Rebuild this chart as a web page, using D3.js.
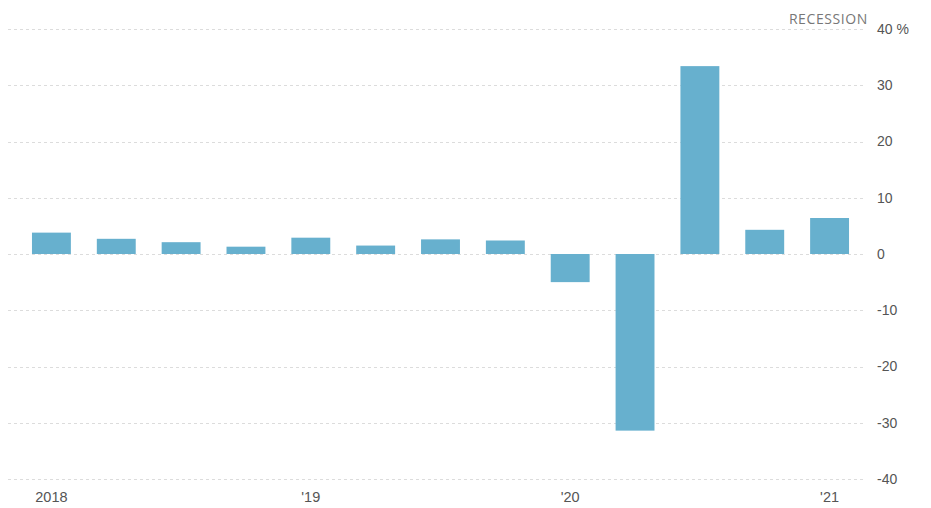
<!DOCTYPE html>
<html>
<head>
<meta charset="utf-8">
<script src="https://cdn.jsdelivr.net/npm/d3@7"></script>
<style>
  body { margin: 0; background: #fff; }
  svg { display: block; font-family: "Open Sans", sans-serif; }
</style>
</head>
<body>
<div id="chart"></div>
<script>
// DATA
var quarters = ['2018Q1', '2018Q2', '2018Q3', '2018Q4', '2019Q1', '2019Q2', '2019Q3', '2019Q4',
                '2020Q1', '2020Q2', '2020Q3', '2020Q4', '2021Q1'];
var growth = [3.8, 2.7, 2.1, 1.3, 2.9, 1.5, 2.6, 2.4, -5.0, -31.4, 33.4, 4.3, 6.4];
var yTicks = [40, 30, 20, 10, 0, -10, -20, -30, -40];
var xLabels = { '2018Q1': '2018', '2019Q1': "'19", '2020Q1': "'20", '2021Q1': "'21" };

var width = 931, height = 508;

var svg = d3.select('#chart').append('svg')
            .attr('width', width)
            .attr('height', height);

// Scales
var x = d3.scaleBand()
          .domain(quarters)
          .range([19, 862])
          .paddingInner(0.4)
          .paddingOuter(0.2);

var y = d3.scaleLinear()
          .domain([-40, 40])
          .range([479, 29]);

// Gridlines
svg.append('g')
   .selectAll('line')
   .data(yTicks)
   .join('line')
   .attr('x1', 8)
   .attr('x2', 866)
   .attr('y1', d => Math.round(y(d)) + 0.5)
   .attr('y2', d => Math.round(y(d)) + 0.5)
   .style('stroke', '#dcdcdc')
   .style('stroke-width', 1)
   .style('stroke-dasharray', '3,3');

// Bars
svg.append('g')
   .selectAll('rect')
   .data(quarters)
   .join('rect')
   .attr('x', d => x(d))
   .attr('width', x.bandwidth())
   .attr('y', (d, i) => y(Math.max(0, growth[i])))
   .attr('height', (d, i) => Math.abs(y(growth[i]) - y(0)))
   .style('fill', '#67b0ce');

// Y axis labels (right side)
var yAxis = d3.axisRight(y)
              .tickValues(yTicks)
              .tickSize(0)
              .tickPadding(0)
              .tickFormat(d => d === 40 ? '40 %' : d);

svg.append('g')
   .attr('transform', 'translate(877,0)')
   .call(yAxis)
   .call(g => g.select('.domain').remove())
   .call(g => g.selectAll('text')
               .attr('dy', '0.32em')
               .style('font-size', '14px')
               .style('fill', '#555'));

// X axis labels
var xAxis = d3.axisBottom(x)
              .tickValues(quarters.filter(q => xLabels[q]))
              .tickSize(0)
              .tickPadding(0)
              .tickFormat(q => xLabels[q]);

svg.append('g')
   .attr('transform', 'translate(0,492)')
   .call(xAxis)
   .call(g => g.select('.domain').remove())
   .call(g => g.selectAll('text')
               .style('font-size', '14.5px')
               .style('fill', '#555'));

// Recession label
svg.append('text')
   .attr('x', 868)
   .attr('y', 24)
   .attr('text-anchor', 'end')
   .style('font-size', '14px')
   .style('letter-spacing', '0.6px')
   .style('fill', '#777')
   .text('RECESSION');
</script>
</body>
</html>
